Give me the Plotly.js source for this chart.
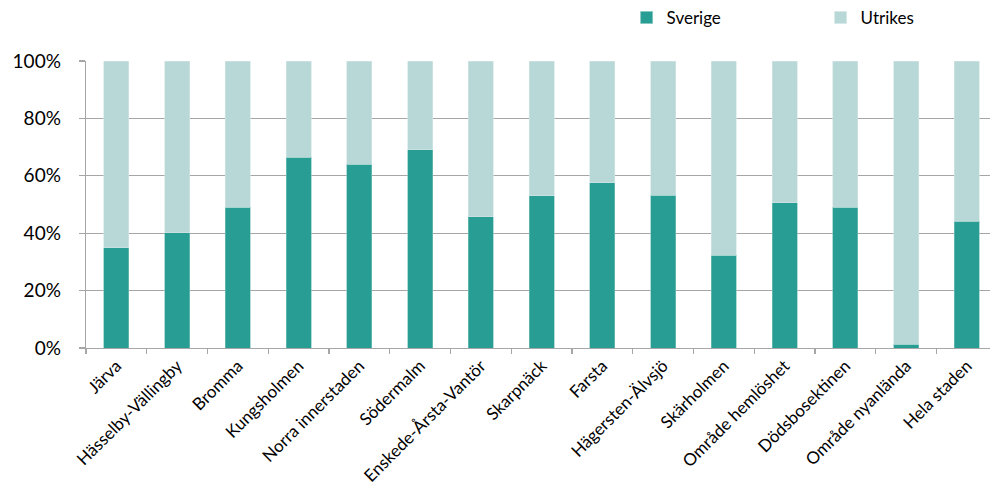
<!DOCTYPE html>
<html>
<head>
<meta charset="utf-8">
<script src="https://cdn.plot.ly/plotly-3.0.1.min.js"></script>
<style>html,body{margin:0;padding:0;background:#fff;}#chart{width:990px;height:493px;}</style>
</head>
<body>
<div id="chart"></div>
<script>
const categories = ["Järva","Hässelby-Vällingby","Bromma","Kungsholmen","Norra innerstaden","Södermalm","Enskede-Årsta-Vantör","Skarpnäck","Farsta","Hägersten-Älvsjö","Skärholmen","Område hemlöshet","Dödsbosektinen","Område nyanlända","Hela staden"];
const sverige = [35.0, 40.2, 49.0, 66.4, 64.0, 69.1, 45.7, 53.1, 57.5, 53.2, 32.3, 50.6, 49.0, 1.3, 44.1];
const utrikes = [65.0, 59.8, 51.0, 33.6, 36.0, 30.9, 54.3, 46.9, 42.5, 46.8, 67.7, 49.4, 51.0, 98.7, 55.9];
const yTickVals = [0, 20, 40, 60, 80, 100];
const yTickText = ["0%", "20%", "40%", "60%", "80%", "100%"];

const font = "Lato, 'Open Sans', sans-serif";
const traces = [
  {type: "bar", name: "Sverige", x: categories, y: sverige,
   marker: {color: "#279d93", line: {color: "#7fc4be", width: 0.6}}},
  {type: "bar", name: "Utrikes", x: categories, y: utrikes,
   marker: {color: "#b7d8d6", line: {color: "#d4e8e6", width: 0.6}}}
];
const layout = {
  width: 990, height: 493,
  margin: {l: 86, r: 0, t: 61, b: 145, autoexpand: false},
  paper_bgcolor: "#fff", plot_bgcolor: "#fff",
  barmode: "stack", bargap: 0.59,
  font: {family: font, color: "#000", size: 17},
  showlegend: true,
  legend: {orientation: "h", x: 0.598, xanchor: "left", y: 1.15, yanchor: "middle",
           font: {family: font, size: 17, color: "#000"}, entrywidth: 149, entrywidthmode: "pixels",
           traceorder: "normal", bgcolor: "rgba(0,0,0,0)"},
  xaxis: {type: "category", range: [-0.5, 14.38], tickangle: -45, automargin: false,
          showline: true, linecolor: "#a6a6a6", linewidth: 1.3,
          ticks: "outside", tickson: "boundaries", ticklen: 5, tickcolor: "#a6a6a6", tickwidth: 1.3,
          showgrid: false, tickfont: {family: font, size: 17, color: "#000"}},
  yaxis: {range: [0, 100], tickvals: yTickVals, ticktext: yTickText, automargin: false,
          showline: true, linecolor: "#a6a6a6", linewidth: 1.3,
          ticks: "outside", ticklen: 6, tickcolor: "#a6a6a6", tickwidth: 1.3,
          ticklabelstandoff: 14,
          showgrid: true, gridcolor: "#a6a6a6", gridwidth: 1.3, zeroline: false,
          tickfont: {family: font, size: 19, color: "#000"}}
};
Plotly.newPlot("chart", traces, layout, {displayModeBar: false, staticPlot: true});
</script>
</body>
</html>
